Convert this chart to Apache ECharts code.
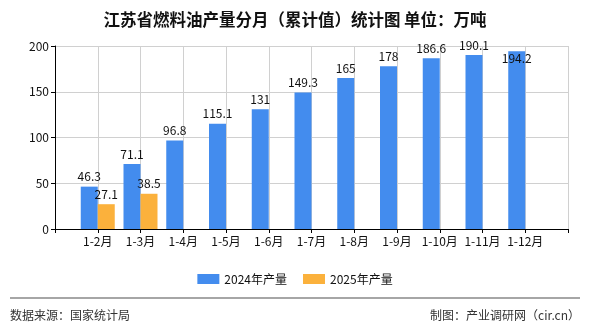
<!DOCTYPE html>
<html>
<head>
<meta charset="utf-8">
<script src="https://cdn.jsdelivr.net/npm/echarts@6/dist/echarts.min.js"></script>
<style>
html,body{margin:0;padding:0;background:#fff;}
#c{width:590px;height:330px;}
</style>
</head>
<body>
<div id="c"></div>
<script>
var categories = ['1-2月','1-3月','1-4月','1-5月','1-6月','1-7月','1-8月','1-9月','1-10月','1-11月','1-12月'];
var values2024 = [46.3, 71.1, 96.8, 115.1, 131, 149.3, 165, 178, 186.6, 190.1, 194.2];
var values2025 = [27.1, 38.5];
var yTicks = [0, 50, 100, 150, 200];
var titleText = '江苏省燃料油产量分月（累计值）统计图 单位：万吨';
var seriesNames = ['2024年产量', '2025年产量'];

var FONT = '"Noto Sans CJK SC", sans-serif';
// pad the axis with an empty slot at each end so categories sit on ticks 1..11
var axisData = [''].concat(categories).concat(['']);
function pad(arr) {
  var out = [null];
  for (var i = 0; i < categories.length; i++) {
    out.push(i < arr.length ? arr[i] : null);
  }
  out.push(null);
  return out;
}
var d2024 = pad(values2024).map(function (v, i) {
  if (v === null) return null;
  if (i === categories.length) {
    return { value: v, label: { position: 'insideTop', offset: [0, -3] } };
  }
  return v;
});
var d2025 = pad(values2025);

var chart = echarts.init(document.getElementById('c'));
chart.setOption({
  backgroundColor: '#ffffff',
  animation: false,
  title: {
    text: titleText,
    left: 'center',
    top: 6,
    textStyle: { fontFamily: FONT, fontSize: 16.5, fontWeight: 'bold', color: '#111' }
  },
  legend: {
    data: seriesNames,
    left: 'center',
    top: 268,
    itemWidth: 22,
    itemHeight: 10,
    itemGap: 16,
    icon: 'rect',
    textStyle: { fontFamily: FONT, fontSize: 12, color: '#111' }
  },
  grid: { left: 55, right: 22, top: 46, bottom: 101 },
  xAxis: {
    type: 'category',
    data: axisData,
    boundaryGap: false,
    axisLine: { lineStyle: { color: '#000', width: 1 } },
    axisTick: { show: true, interval: 0, length: 4, lineStyle: { color: '#000' } },
    axisLabel: { interval: 0, fontFamily: FONT, fontSize: 12, color: '#111', margin: 6 },
    splitLine: { show: true, interval: 0, lineStyle: { color: '#d0d0d0' } }
  },
  yAxis: {
    type: 'value',
    min: yTicks[0],
    max: yTicks[yTicks.length - 1],
    interval: 50,
    axisLine: { show: true, lineStyle: { color: '#000' } },
    axisTick: { show: true, length: 4, lineStyle: { color: '#000' } },
    axisLabel: { fontFamily: FONT, fontSize: 12, color: '#111', margin: 6 },
    splitLine: { show: true, lineStyle: { color: '#d0d0d0' } }
  },
  series: [
    {
      name: seriesNames[0],
      type: 'bar',
      data: d2024,
      barWidth: 17,
      barGap: '0%',
      itemStyle: { color: '#438cee' },
      label: { show: true, position: 'top', distance: 4, fontFamily: FONT, fontSize: 12, color: '#111' }
    },
    {
      name: seriesNames[1],
      type: 'bar',
      data: d2025,
      barWidth: 17,
      barGap: '0%',
      itemStyle: { color: '#fbb13c' },
      label: { show: true, position: 'top', distance: 4, fontFamily: FONT, fontSize: 12, color: '#111' }
    }
  ],
  graphic: [
    { type: 'line', shape: { x1: 10, y1: 298, x2: 580, y2: 298 }, style: { stroke: '#888', lineWidth: 1.5 } },
    { type: 'text', left: 10, top: 309, style: { text: '数据来源：国家统计局', font: '12px "Noto Sans CJK SC", sans-serif', fill: '#333' } },
    { type: 'text', right: 10, top: 309, style: { text: '制图：产业调研网（cir.cn）', font: '12px "Noto Sans CJK SC", sans-serif', fill: '#333' } }
  ]
});
</script>
</body>
</html>
